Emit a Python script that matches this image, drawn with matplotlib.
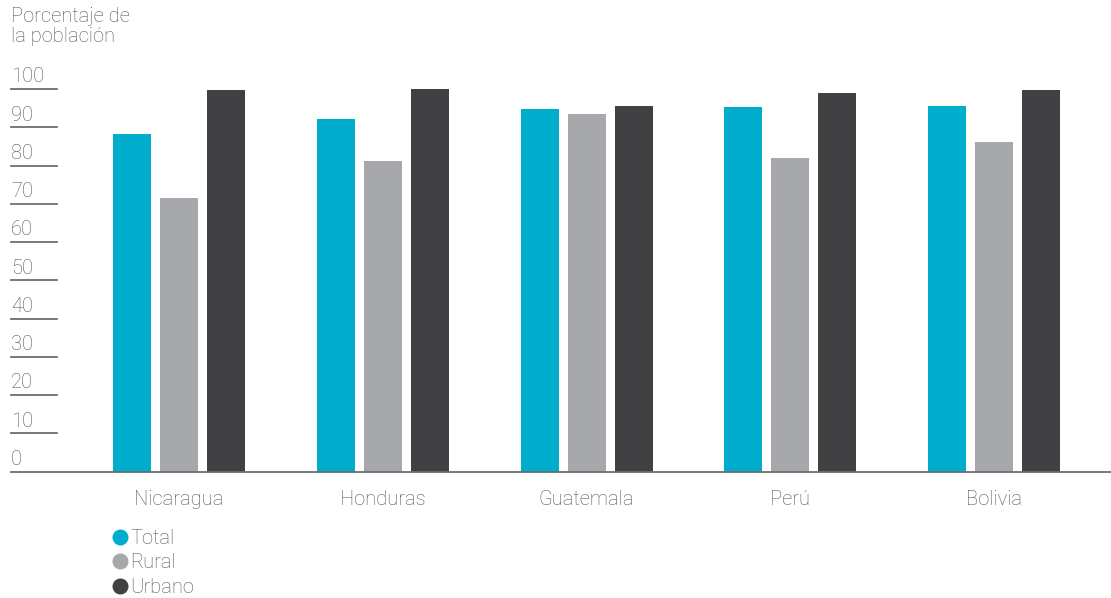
import matplotlib.pyplot as plt
import numpy as np
from matplotlib.lines import Line2D

plt.rcParams['font.family'] = ['Roboto', 'DejaVu Sans']

# datos
paises = ['Nicaragua', 'Honduras', 'Guatemala', 'Perú', 'Bolivia']
total = [88.2, 92.1, 94.7, 95.2, 95.5]
rural = [71.5, 81.1, 93.6, 81.9, 86.1]
urbano = [99.8, 100.1, 95.5, 99.1, 99.9]
series = ['Total', 'Rural', 'Urbano']
colores = ['#00adcc', '#a7a8ab', '#414143']
yticks = [10, 20, 30, 40, 50, 60, 70, 80, 90, 100]
titulo = 'Porcentaje de\nla población'

color_texto = '#545557'
fs = 14.5
peso = 'light'

fig = plt.figure(figsize=(11.11, 5.98), dpi=100)
ax = fig.add_axes([11 / 1111, 1 - 471.7 / 598, 1 - 11 / 1111, (471.7 - 70) / 598])

x = np.arange(len(paises))
ancho = 0.1865
paso = 0.2306
for i, (vals, col) in enumerate(zip([total, rural, urbano], colores)):
    ax.bar(x + (i - 1) * paso, vals, width=ancho, color=col, zorder=2)

ax.set_xlim(-0.824, 4.573)
ax.set_ylim(0, 105)

# lineas cortas de la escala, con su etiqueta encima
x_fin = (57 - 11) / 1100
for v in yticks:
    ax.plot([0, x_fin], [v, v], transform=ax.get_yaxis_transform(),
            color='#6d6e71', lw=1.3, clip_on=False)
for v in [0] + yticks:
    ax.annotate(str(v), xy=(0, v), xycoords=('axes fraction', 'data'),
                xytext=(0, 2), textcoords='offset points',
                ha='left', va='bottom', fontsize=fs, color=color_texto,
                fontweight=peso)

for s in ['top', 'right', 'left']:
    ax.spines[s].set_visible(False)
ax.spines['bottom'].set_color('#6d6e71')
ax.spines['bottom'].set_linewidth(1.3)
ax.set_yticks([])
ax.set_xticks(x)
ax.set_xticklabels(paises, fontsize=fs, color=color_texto, fontweight=peso)
ax.tick_params(axis='x', length=0, pad=13)

fig.text(11 / 1111, 1 - 7 / 598, titulo, ha='left', va='top', fontsize=fs,
         color=color_texto, fontweight=peso, linespacing=1.1)

handles = [Line2D([], [], marker='o', linestyle='none', markersize=10.5,
                  markerfacecolor=c, markeredgecolor=c) for c in colores]
leg = fig.legend(handles, series, loc='upper left',
                 bbox_to_anchor=(108 / 1111, 1 - 529 / 598), frameon=False,
                 fontsize=fs, handletextpad=-0.1, labelspacing=0.27,
                 borderpad=0, borderaxespad=0, handlelength=1.2)
for t in leg.get_texts():
    t.set_color(color_texto)
    t.set_fontweight(peso)

fig.savefig('out.png', dpi=100)
